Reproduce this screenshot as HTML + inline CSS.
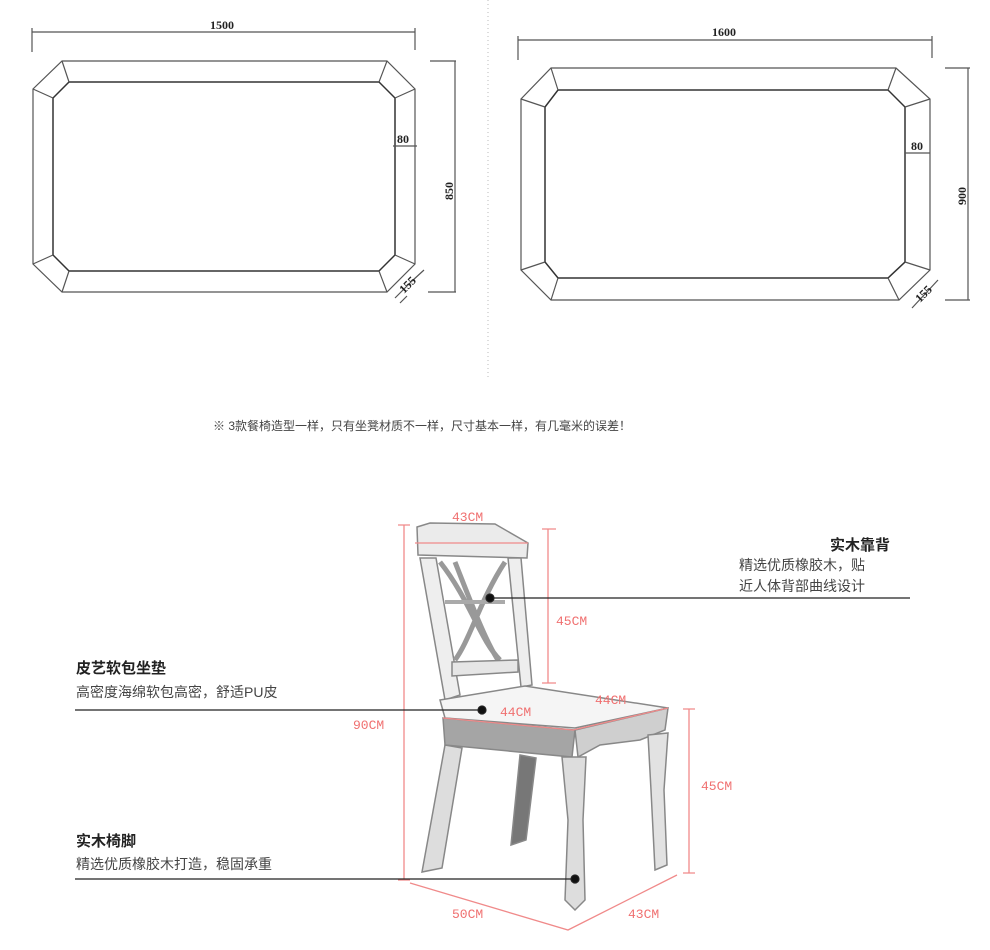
<!DOCTYPE html>
<html><head><meta charset="utf-8"><style>
body{margin:0;background:#fff;width:990px;height:950px;overflow:hidden;font-family:"Liberation Sans","Noto Sans CJK SC",sans-serif}
svg{position:absolute;left:0;top:0}
</style></head><body>
<svg width="990" height="950" viewBox="0 0 990 950" xmlns="http://www.w3.org/2000/svg">
<line x1="488" y1="0" x2="488" y2="380" stroke="#bbb" stroke-dasharray="1 3"/>
<g fill="none" stroke="#555" stroke-width="1.2">
<polygon points="62,61 387,61 415,89 415,264 387,292 62,292 33,264 33,89"/>
<polygon points="69,82 379,82 395,98 395,255 379,271 69,271 53,255 53,98" stroke="#333" stroke-width="1.5"/>
<path d="M62,61L69,82M33,89L53,98M387,61L379,82M415,89L395,98M415,264L395,255M387,292L379,271M62,292L69,271M33,264L53,255"/>
<path d="M32,32H415M32,28V52M415,28V50M430,61H456M428,292H456M455,61V292M393,146H417M395,298L412,281M412,281L424,270M400,303L407,296"/>
<polygon points="551,68 896,68 930,99 930,270 899,300 551,300 521,270 521,99"/>
<polygon points="558,90 888,90 905,107 905,262 888,278 558,278 545,262 545,107" stroke="#333" stroke-width="1.5"/>
<path d="M551,68L558,90M521,99L545,107M896,68L888,90M930,99L905,107M930,270L905,262M899,300L888,278M551,300L558,278M521,270L545,262"/>
<path d="M518,40H932M518,36V60M932,36V58M945,68H970M945,300H970M968,68V300M905,153H930M912,308L938,280"/>
</g>
<g font-family="Liberation Serif,serif" font-size="12" font-weight="bold" fill="#222">
<text x="210" y="29">1500</text><text x="712" y="36">1600</text>
<text x="397" y="143">80</text><text x="911" y="150">80</text>
<text transform="translate(453,200) rotate(-90)">850</text>
<text transform="translate(966,205) rotate(-90)">900</text>
<text transform="translate(404,294) rotate(-45)">155</text>
<text transform="translate(920,303) rotate(-45)">155</text>
</g>
<text x="213" y="430" font-size="12" fill="#444">※ 3款餐椅造型一样，只有坐凳材质不一样，尺寸基本一样，有几毫米的误差！</text>
<g stroke="#888" stroke-width="1.5">
<polygon points="445,745 462,748 442,868 422,872" fill="#ddd"/>
<polygon points="520,755 536,758 526,840 511,845" fill="#777"/>
<polygon points="420,558 436,558 460,695 445,700" fill="#eee"/>
<polygon points="508,558 521,558 532,685 521,687" fill="#eee"/>
<polygon points="417,527 430,523 495,524 528,543 527,558 418,555" fill="#ebebeb"/>
<path d="M440,562 C470,600 480,640 500,660 M505,562 C480,600 470,640 455,660 M455,562 C470,600 485,640 498,660" fill="none" stroke="#999" stroke-width="5"/>
<path d="M445,602 H505" stroke="#aaa" stroke-width="4"/>
<polygon points="452,662 518,660 518,672 452,676" fill="#e6e6e6"/>
<polygon points="440,700 525,686 668,708 575,728 445,718" fill="#f5f5f5"/>
<polygon points="443,718 575,730 572,757 445,745" fill="#a5a5a5"/>
<polygon points="575,730 668,708 665,730 640,740 600,745 578,757" fill="#cfcfcf"/>
<polygon points="562,757 586,757 583,820 585,900 575,910 565,900 568,820" fill="#ddd"/>
<polygon points="648,735 668,733 664,790 667,865 655,870 651,790" fill="#e2e2e2"/>
</g>
<g stroke="#f08a8a" stroke-width="1.3" fill="none">
<path d="M404,525V880M398,525H410M398,880H410"/>
<path d="M548,529V683M542,529H556M542,683H556"/>
<path d="M689,709V873M683,709H695M683,873H695"/>
<path d="M415,543L528,543"/>
<path d="M443,718L573,730L668,708"/>
<path d="M410,883L568,930L677,875"/>
</g>
<g font-family="Liberation Mono,monospace" font-size="13" fill="#f07070">
<text x="452" y="521">43CM</text><text x="556" y="625">45CM</text>
<text x="353" y="729">90CM</text><text x="500" y="716">44CM</text><text x="595" y="704">44CM</text>
<text x="701" y="790">45CM</text><text x="452" y="918">50CM</text><text x="628" y="918">43CM</text>
</g>
<g stroke="#222" stroke-width="1.2">
<line x1="490" y1="598" x2="910" y2="598"/><circle cx="490" cy="598" r="4" fill="#111"/>
<line x1="75" y1="710" x2="482" y2="710"/><circle cx="482" cy="710" r="4" fill="#111"/>
<line x1="75" y1="879" x2="575" y2="879"/><circle cx="575" cy="879" r="4" fill="#111"/>
</g>
<g fill="#222">
<text x="830" y="550" font-size="15" font-weight="bold">实木靠背</text>
<text x="739" y="570" font-size="14" fill="#444">精选优质橡胶木，贴</text>
<text x="739" y="591" font-size="14" fill="#444">近人体背部曲线设计</text>
<text x="76" y="673" font-size="15" font-weight="bold">皮艺软包坐垫</text>
<text x="76" y="697" font-size="14" fill="#444">高密度海绵软包高密，舒适PU皮</text>
<text x="76" y="846" font-size="15" font-weight="bold">实木椅脚</text>
<text x="76" y="869" font-size="14" fill="#444">精选优质橡胶木打造，稳固承重</text>
</g>
</svg>
</body></html>
